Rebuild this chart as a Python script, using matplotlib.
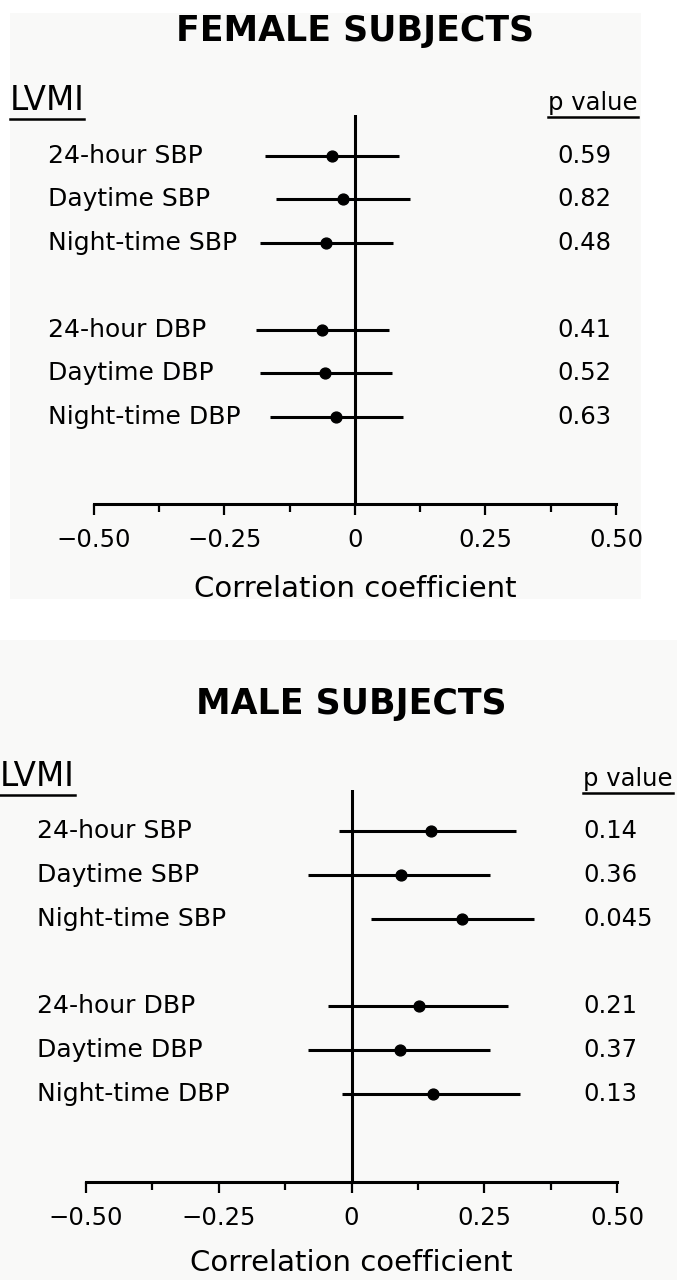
import numpy as np
import matplotlib
matplotlib.use('Agg')
import matplotlib.pyplot as plt
from matplotlib.patches import Rectangle
from matplotlib.lines import Line2D
from matplotlib.transforms import blended_transform_factory

plt.rcParams['font.family'] = ['DejaVu Sans']

# data
labels = ['24-hour SBP', 'Daytime SBP', 'Night-time SBP',
          '24-hour DBP', 'Daytime DBP', 'Night-time DBP']

female_r = [-0.044, -0.023, -0.056, -0.063, -0.057, -0.036]
female_lo = [-0.172, -0.151, -0.182, -0.190, -0.182, -0.163]
female_hi = [0.084, 0.105, 0.073, 0.065, 0.071, 0.092]
female_p = ['0.59', '0.82', '0.48', '0.41', '0.52', '0.63']

male_r = [0.149, 0.094, 0.209, 0.128, 0.092, 0.154]
male_lo = [-0.024, -0.081, 0.036, -0.045, -0.081, -0.017]
male_hi = [0.310, 0.260, 0.343, 0.294, 0.260, 0.318]
male_p = ['0.14', '0.36', '0.045', '0.21', '0.37', '0.13']

xticks = [-0.5, -0.25, 0, 0.25, 0.5]
xticklabels = ['\u22120.50', '\u22120.25', '0', '0.25', '0.50']

W, H = 677, 1280
fig = plt.figure(figsize=(W / 100, H / 100), dpi=100)
fig.patch.set_facecolor('white')

bg = '#f9f9f8'
# grey panels (pixel boxes -> figure fraction)
fig.patches.append(Rectangle((9.5 / W, 1 - 599 / H), (641 - 9.5) / W, (599 - 13) / H,
                             transform=fig.transFigure, facecolor=bg, edgecolor='none', zorder=-5))
fig.patches.append(Rectangle((0, 0), 1, 1 - 640 / H,
                             transform=fig.transFigure, facecolor=bg, edgecolor='none', zorder=-5))

# rows: 3 SBP, gap, 3 DBP
row_y = 8 - np.array([0, 1, 2, 4, 5, 6])

fs = 18
underlines = []


def panel(box, title, title_y, head_y, lab_x, lvmi_x, ph_x, pv_x, xlab_y, r, lo, hi, pvals):
    left, right, bottom, top = box
    ax = fig.add_axes([left / W, 1 - bottom / H, (right - left) / W, (bottom - top) / H])
    ax.set_zorder(2)
    ax.set_facecolor('none')
    ax.set_xlim(-0.5, 0.5)
    ax.set_ylim(0, 8.93)
    for s in ['left', 'right', 'top']:
        ax.spines[s].set_visible(False)
    ax.spines['bottom'].set_linewidth(2.2)
    ax.set_yticks([])
    ax.set_xticks(xticks)
    ax.set_xticklabels(xticklabels, fontsize=17.5)
    ax.set_xticks(np.arange(-0.375, 0.5, 0.25), minor=True)
    ax.tick_params(axis='x', which='major', length=8, width=1.6, pad=9)
    ax.tick_params(axis='x', which='minor', length=5.5, width=1.6)
    ax.axvline(0, color='black', lw=2.2)

    ax.hlines(row_y, lo, hi, color='black', lw=2.2)
    ax.plot(r, row_y, 'o', color='black', ms=7.8)

    tr = blended_transform_factory(fig.transFigure, ax.transData)
    for y, lab, pv in zip(row_y, labels, pvals):
        ax.text(lab_x / W, y, lab, transform=tr, fontsize=fs, va='center', ha='left')
        ax.text(pv_x / W, y, pv, transform=tr, fontsize=17.5, va='center', ha='left')

    fig.text(left / W + (right - left) / W / 2, 1 - title_y / H, title,
             fontsize=25, fontweight='bold', ha='center', va='center')
    t1 = fig.text(lvmi_x / W, 1 - head_y / H, 'LVMI', fontsize=23.5, ha='left', va='baseline')
    t2 = fig.text(ph_x / W, 1 - head_y / H, 'p value', fontsize=17.5, ha='left', va='baseline')
    underlines.extend([t1, t2])
    fig.text(left / W + (right - left) / W / 2, 1 - xlab_y / H, 'Correlation coefficient',
             fontsize=21, ha='center', va='center')
    return ax


panel((94, 616, 504, 115), 'FEMALE SUBJECTS', 31, 110, 48, 9.5, 548, 557, 589,
      female_r, female_lo, female_hi, female_p)
panel((86, 617, 1182, 790), 'MALE SUBJECTS', 704, 786, 37, 0, 583, 583, 1263,
      male_r, male_lo, male_hi, male_p)

# underline headers
fig.canvas.draw()
rend = fig.canvas.get_renderer()
for t in underlines:
    bb = t.get_window_extent(rend)
    yy = (bb.y0 - 2) / H
    fig.add_artist(Line2D([bb.x0 / W, bb.x1 / W], [yy, yy], transform=fig.transFigure,
                          color='black', lw=1.8))

fig.savefig('out.png', dpi=100, facecolor='white')
